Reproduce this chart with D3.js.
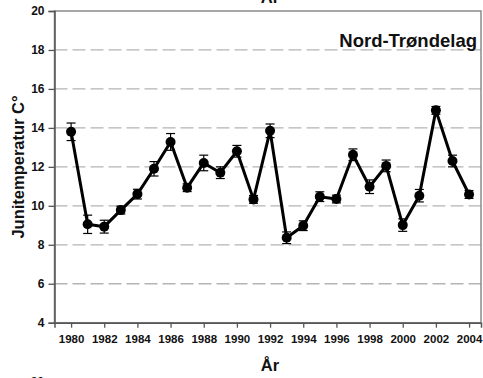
<!DOCTYPE html>
<html>
<head>
<meta charset="utf-8">
<script src="https://cdn.jsdelivr.net/npm/d3@7"></script>
<style>
  html, body { margin: 0; padding: 0; background: #fff; }
  svg { display: block; font-family: "Liberation Sans", Arial, sans-serif; }
</style>
</head>
<body>
<svg id="chart" width="483" height="378"></svg>
<script>
// June mean temperature per year, Nord-Trøndelag, with error margins
const years = [1980, 1981, 1982, 1983, 1984, 1985, 1986, 1987, 1988, 1989, 1990, 1991, 1992,
               1993, 1994, 1995, 1996, 1997, 1998, 1999, 2000, 2001, 2002, 2003, 2004];
const temps = [13.8, 9.05, 8.93, 9.78, 10.6, 11.9, 13.28, 10.93, 12.2, 11.7, 12.8, 10.33, 13.85,
               8.36, 8.98, 10.47, 10.35, 12.62, 10.98, 12.05, 9.01, 10.52, 14.9, 12.3, 10.58];
const errors = [0.45, 0.47, 0.33, 0.2, 0.25, 0.37, 0.43, 0.2, 0.4, 0.3, 0.3, 0.2, 0.35,
                0.3, 0.25, 0.25, 0.2, 0.3, 0.35, 0.3, 0.32, 0.32, 0.2, 0.3, 0.2];
const yTicks = [4, 6, 8, 10, 12, 14, 16, 18, 20];
const xTicks = [1980, 1982, 1984, 1986, 1988, 1990, 1992, 1994, 1996, 1998, 2000, 2002, 2004];
const gridValues = [6, 8, 10, 12, 14, 16, 18];

const svg = d3.select("#chart");
const plotL = 54.5, plotR = 481, plotT = 11, plotB = 322.7;

const x = d3.scaleLinear().domain([1979, 2004.72]).range([plotL, plotR]);
const y = d3.scaleLinear().domain([4, 20]).range([plotB, plotT]);

// dashed horizontal gridlines
svg.append("g").selectAll("line").data(gridValues).join("line")
  .attr("x1", plotL).attr("x2", plotR)
  .attr("y1", d => y(d)).attr("y2", d => y(d))
  .attr("stroke", "#b4b4b4").attr("stroke-width", 1.3)
  .attr("stroke-dasharray", "13,5");

// plot frame
svg.append("rect")
  .attr("x", plotL).attr("y", plotT)
  .attr("width", plotR - plotL).attr("height", plotB - plotT)
  .attr("fill", "none").attr("stroke", "#8a8a8a").attr("stroke-width", 1.5);

// y axis
const yAxis = svg.append("g")
  .attr("transform", `translate(${plotL},0)`)
  .call(d3.axisLeft(y).tickValues(yTicks).tickSize(6).tickPadding(4).tickFormat(d3.format("d")));
yAxis.select(".domain").attr("stroke", "#555").attr("stroke-width", 1.5);
yAxis.selectAll(".tick line").attr("stroke", "#555").attr("stroke-width", 1.3);
yAxis.selectAll("text").attr("font-size", 12).attr("font-weight", "bold").attr("fill", "#111");

// x axis
const xAxis = svg.append("g")
  .attr("transform", `translate(0,${plotB})`)
  .call(d3.axisBottom(x).tickValues(xTicks).tickSize(5).tickPadding(7).tickFormat(d3.format("d")));
xAxis.select(".domain").attr("stroke", "#555").attr("stroke-width", 1.5);
xAxis.selectAll(".tick line").attr("stroke", "#555").attr("stroke-width", 1.3);
xAxis.selectAll("text").attr("font-size", 11.5).attr("font-weight", "bold").attr("fill", "#111");

// error bars
const eb = svg.append("g").attr("stroke", "#000").attr("stroke-width", 1.2);
years.forEach((yr, i) => {
  const cx = x(yr), hi = y(temps[i] + errors[i]), lo = y(temps[i] - errors[i]);
  eb.append("line").attr("x1", cx).attr("x2", cx).attr("y1", hi).attr("y2", lo);
  eb.append("line").attr("x1", cx - 4.5).attr("x2", cx + 4.5).attr("y1", hi).attr("y2", hi);
  eb.append("line").attr("x1", cx - 4.5).attr("x2", cx + 4.5).attr("y1", lo).attr("y2", lo);
});

// connecting line
const line = d3.line().x((d, i) => x(years[i])).y(d => y(d));
svg.append("path").datum(temps)
  .attr("d", line).attr("fill", "none")
  .attr("stroke", "#000").attr("stroke-width", 3).attr("stroke-linejoin", "round");

// markers
svg.append("g").selectAll("circle").data(temps).join("circle")
  .attr("cx", (d, i) => x(years[i])).attr("cy", d => y(d))
  .attr("r", 5).attr("fill", "#000");

// region label
svg.append("text")
  .attr("x", 477).attr("y", 47).attr("text-anchor", "end")
  .attr("font-size", 18.5).attr("font-weight", "bold").attr("fill", "#111")
  .text("Nord-Trøndelag");

// axis titles
svg.append("text")
  .attr("transform", "translate(24,167) rotate(-90)")
  .attr("text-anchor", "middle")
  .attr("font-size", 16.5).attr("font-weight", "bold").attr("fill", "#111")
  .text("Junitemperatur C°");

svg.append("text")
  .attr("x", 270).attr("y", 371).attr("text-anchor", "middle")
  .attr("font-size", 16.5).attr("font-weight", "bold").attr("fill", "#111")
  .text("År");

// edges of the neighbouring panels above and below
svg.append("text")
  .attr("x", 270).attr("y", 3).attr("text-anchor", "middle")
  .attr("font-size", 16.5).attr("font-weight", "bold").attr("fill", "#111")
  .text("År");
svg.append("text")
  .attr("x", 44).attr("y", 386).attr("text-anchor", "end")
  .attr("font-size", 12).attr("font-weight", "bold").attr("fill", "#111")
  .text("20");
</script>
</body>
</html>
